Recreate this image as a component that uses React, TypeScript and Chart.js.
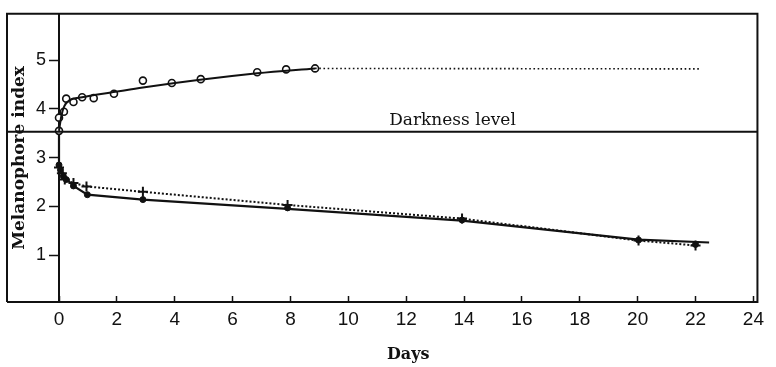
import React, { useEffect, useRef } from "react";
import { Chart, registerables } from "chart.js";

Chart.register(...registerables);

// ---- data ----
const DARKNESS_LEVEL = 3.53;

// upper curve: open circles (observations)
const upperDays = [0, 0, 0.17, 0.25, 0.5, 0.8, 1.2, 1.9, 2.9, 3.9, 4.9, 6.85, 7.85, 8.85];
const upperIndex = [3.55, 3.82, 3.94, 4.21, 4.14, 4.24, 4.22, 4.31, 4.58, 4.53, 4.61, 4.75, 4.81, 4.83];

// upper fitted solid curve
const upperFitDays = [0, 0.08, 0.18, 0.35, 0.8, 1.95, 2.9, 6.85, 8.85];
const upperFitIndex = [3.55, 3.85, 4.05, 4.17, 4.24, 4.35, 4.44, 4.73, 4.83];

// upper dotted extension
const upperExtDays = [8.85, 22.2];
const upperExtIndex = [4.83, 4.82];

// lower solid curve
const lowerFitDays = [0, 0, 0.25, 0.5, 0.98, 2.9, 7.9, 13.93, 20.03, 22.47];
const lowerFitIndex = [3.53, 2.85, 2.57, 2.42, 2.24, 2.14, 1.95, 1.71, 1.32, 1.26];

// lower filled-dot observations
const lowerDotDays = [0, 0.05, 0.15, 0.25, 0.5, 0.98, 2.9, 7.9, 13.93, 20.03, 22.0];
const lowerDotIndex = [2.85, 2.75, 2.62, 2.55, 2.42, 2.24, 2.14, 1.97, 1.72, 1.31, 1.22];

// lower cross observations (dotted curve)
const lowerCrossDays = [0, 0.1, 0.2, 0.5, 0.95, 2.9, 7.9, 13.93, 20.03, 22.0];
const lowerCrossIndex = [2.8, 2.68, 2.55, 2.48, 2.41, 2.3, 2.03, 1.75, 1.3, 1.2];

const xTickStep = 2;
const yTickStep = 1;

const toPts = (xs: number[], ys: number[]) => xs.map((x, i) => ({ x, y: ys[i] }));

const INK = "#111";
const TICK_FONT = '"Liberation Sans Narrow", "Liberation Sans", sans-serif';
const SERIF = '"DejaVu Serif", serif';

export default function App() {
  const ref = useRef<HTMLCanvasElement>(null);

  useEffect(() => {
    const canvas = ref.current;
    if (!canvas) return;

    const framePlugin = {
      id: "frame",
      afterDraw(chart: any) {
        const { ctx, chartArea, scales } = chart;
        const left = scales.y.left;
        const top = chartArea.top;
        const right = chartArea.right;
        const bottom = chartArea.bottom;
        const yd = scales.y.getPixelForValue(DARKNESS_LEVEL);
        ctx.save();
        ctx.strokeStyle = INK;
        ctx.lineWidth = 2;
        ctx.beginPath();
        ctx.moveTo(left, bottom);
        ctx.lineTo(left, top);
        ctx.lineTo(right, top);
        ctx.lineTo(right, bottom);
        ctx.lineTo(left, bottom);
        ctx.moveTo(left, yd);
        ctx.lineTo(right, yd);
        ctx.stroke();
        ctx.fillStyle = INK;
        ctx.font = `17px ${SERIF}`;
        ctx.textAlign = "center";
        ctx.textBaseline = "alphabetic";
        ctx.fillText("Darkness level", scales.x.getPixelForValue(13.6), yd - 7);
        ctx.restore();
      },
    };

    const chart = new Chart(canvas, {
      type: "scatter",
      data: {
        datasets: [
          {
            label: "Upper fit",
            data: toPts(upperFitDays, upperFitIndex),
            showLine: true,
            borderColor: INK,
            borderWidth: 2,
            pointRadius: 0,
            cubicInterpolationMode: "monotone",
            clip: false,
          } as any,
          {
            label: "Upper extension",
            data: toPts(upperExtDays, upperExtIndex),
            showLine: true,
            borderColor: INK,
            borderWidth: 1.6,
            borderDash: [1.6, 2.6],
            pointRadius: 0,
            clip: false,
          },
          {
            label: "Upper observations",
            data: toPts(upperDays, upperIndex),
            showLine: false,
            pointStyle: "circle",
            pointRadius: 3.5,
            pointBorderWidth: 1.6,
            pointBorderColor: INK,
            pointBackgroundColor: "#fff",
            clip: false,
          },
          {
            label: "Lower fit",
            data: toPts(lowerFitDays, lowerFitIndex),
            showLine: true,
            borderColor: INK,
            borderWidth: 2.2,
            pointRadius: 0,
            clip: false,
          },
          {
            label: "Lower crosses",
            data: toPts(lowerCrossDays, lowerCrossIndex),
            showLine: true,
            borderColor: INK,
            borderWidth: 2,
            borderDash: [2, 2],
            pointStyle: "cross",
            pointRadius: 5,
            pointBorderWidth: 2,
            pointBorderColor: INK,
            clip: false,
          },
          {
            label: "Lower dots",
            data: toPts(lowerDotDays, lowerDotIndex),
            showLine: false,
            pointStyle: "circle",
            pointRadius: 3,
            pointBorderWidth: 1,
            pointBorderColor: INK,
            pointBackgroundColor: INK,
            clip: false,
          },
        ],
      },
      options: {
        responsive: false,
        devicePixelRatio: 1,
        animation: false,
        layout: { padding: { left: 7, right: 7, top: 10, bottom: 0 } },
        plugins: { legend: { display: false }, tooltip: { enabled: false } },
        scales: {
          x: {
            type: "linear",
            position: "bottom",
            min: 0,
            max: 24.14,
            ticks: {
              stepSize: xTickStep,
              includeBounds: false,
              autoSkip: false,
              maxRotation: 0,
              padding: 12,
              color: INK,
              font: { family: TICK_FONT, size: 19 },
            },
            grid: {
              drawOnChartArea: false,
              drawTicks: true,
              tickLength: -6,
              tickWidth: 1.5,
              tickColor: INK,
            },
            border: { display: true, color: INK, width: 2 },
            title: {
              display: true,
              text: "Days",
              color: INK,
              font: { family: SERIF, size: 16, weight: "bold" },
              padding: { top: 0, bottom: 3 },
            },
            afterFit: (s: any) => {
              s.height = 65;
            },
          },
          y: {
            type: "linear",
            min: 0.04,
            max: 5.95,
            ticks: {
              stepSize: yTickStep,
              includeBounds: false,
              padding: 3,
              color: INK,
              font: { family: TICK_FONT, size: 18 },
            },
            grid: {
              drawOnChartArea: false,
              drawTicks: true,
              tickLength: 10,
              tickWidth: 1.5,
              tickColor: INK,
            },
            border: { display: true, color: INK, width: 2 },
            title: {
              display: true,
              text: "Melanophore index",
              color: INK,
              font: { family: SERIF, size: 17, weight: "bold" },
              padding: { top: 2, bottom: 0 },
            },
            afterFit: (s: any) => {
              s.width = 52;
            },
          },
        },
      },
      plugins: [framePlugin],
    } as any);

    return () => chart.destroy();
  }, []);

  return (
    <div style={{ position: "fixed", left: 0, top: 0, width: 776, height: 367, background: "#fff" }}>
      <canvas ref={ref} width={776} height={367} style={{ display: "block" }} />
    </div>
  );
}
